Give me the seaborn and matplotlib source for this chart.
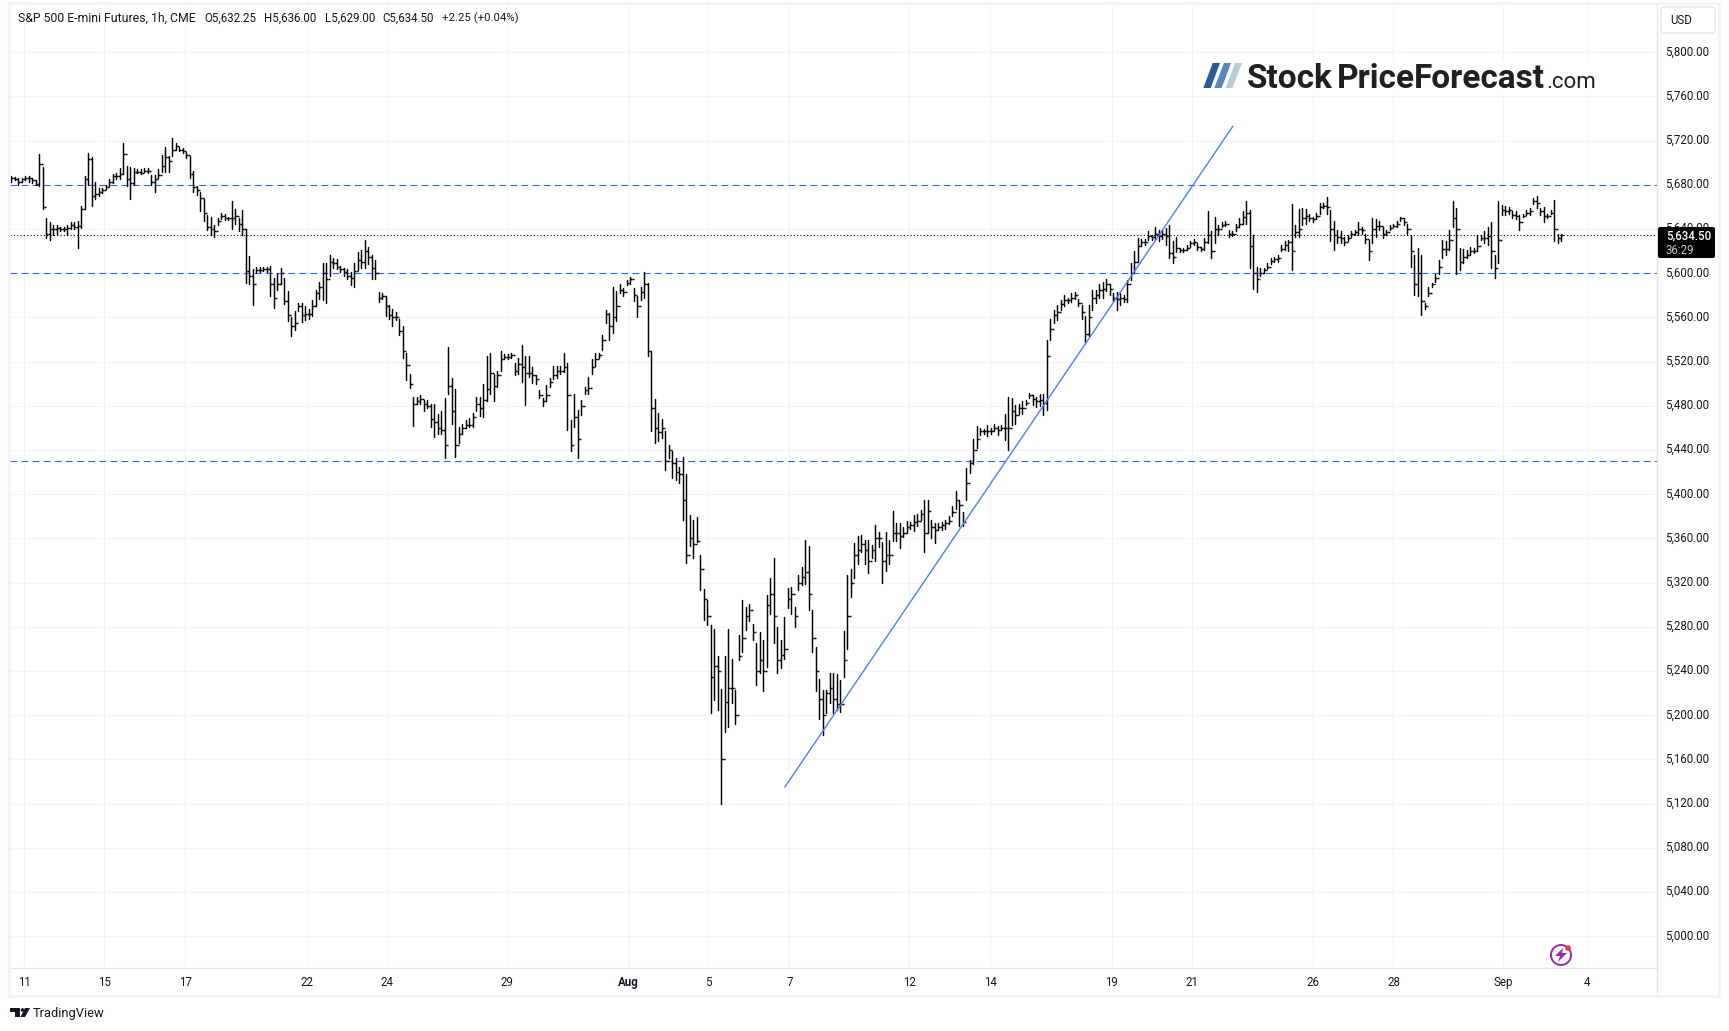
import numpy as np
import pandas as pd
import matplotlib
matplotlib.use("Agg")
import matplotlib.pyplot as plt
from matplotlib.patches import Circle, FancyBboxPatch, Polygon, Rectangle
from matplotlib.ticker import FuncFormatter
from matplotlib.transforms import ScaledTranslation
import seaborn as sns

# bars, one bar for about every two hours
jul_a_high = [5688,5687,5686,5686,5688,5688,5686,5684,5708,5696,5650,5646,5644,5644,5642,5642,5644,5646,5646,5647,5661,5688,5709,5705,5683,5677,5677,5680,5685,5690,5691,5695,5718,5697,5696,5695,5694,5694,5695,5695,5689,5689,5694,5707,5714,5706,5722,5718,5714,5713,5710,5706,5693,5679,5674,5667,5653,5651,5644,5650,5655,5654,5651,5665,5658,5650,5657,5640,5616,5604,5606,5606,5606,5606,5607,5596,5600,5605,5596,5584,5560,5566,5573,5573]
jul_a_low = [5683,5684,5680,5683,5684,5683,5682,5680,5679,5658,5632,5630,5635,5636,5638,5638,5635,5640,5640,5623,5641,5658,5680,5661,5667,5670,5673,5676,5679,5682,5685,5685,5690,5679,5667,5680,5691,5690,5692,5691,5680,5674,5686,5692,5692,5692,5706,5712,5711,5709,5704,5686,5674,5671,5656,5647,5639,5635,5633,5644,5649,5648,5648,5640,5645,5638,5635,5591,5590,5571,5600,5601,5602,5601,5579,5569,5585,5590,5572,5557,5543,5549,5566,5556]
jul_a_close = [5686,5685,5683,5685,5686,5686,5684,5681,5699,5660,5636,5640,5640,5641,5640,5640,5641,5644,5642,5643,5658,5685,5703,5670,5672,5674,5675,5678,5683,5688,5688,5690,5708,5685,5682,5692,5692,5691,5693,5693,5683,5685,5689,5697,5705,5702,5712,5715,5712,5711,5707,5690,5678,5675,5668,5655,5642,5640,5638,5647,5652,5650,5650,5650,5652,5645,5640,5602,5598,5590,5603,5603,5604,5604,5590,5578,5590,5600,5575,5562,5552,5555,5570,5562]

jul_b_high = [5570,5568,5576,5585,5592,5609,5609,5617,5614,5613,5607,5605,5604,5601,5609,5619,5621,5630,5624,5617,5612,5583,5582,5579,5571,5568,5565,5559,5552,5528,5509,5488,5488,5490,5485,5485,5482,5482,5473,5475,5487,5533,5505,5495,5461,5464,5467,5469,5474,5488,5488,5500,5525,5528,5509,5512,5530,5527,5527,5528,5519,5523,5535,5525,5525,5515,5508,5494,5487,5499,5505,5516,5516,5516,5528,5519,5467,5491,5476,5485,5497,5506,5522,5528,5528]
jul_b_low = [5558,5559,5561,5570,5577,5576,5573,5598,5605,5604,5601,5598,5595,5589,5588,5603,5605,5605,5608,5595,5595,5574,5577,5561,5559,5552,5558,5544,5523,5503,5496,5462,5482,5482,5475,5478,5461,5452,5455,5455,5433,5491,5464,5434,5446,5455,5460,5461,5461,5475,5471,5470,5484,5491,5484,5497,5512,5522,5522,5523,5508,5509,5502,5481,5506,5501,5500,5487,5480,5484,5497,5504,5505,5509,5511,5458,5439,5461,5433,5472,5491,5491,5509,5516,5523]
jul_b_close = [5563,5563,5570,5582,5588,5600,5595,5610,5609,5606,5604,5601,5598,5596,5602,5612,5610,5620,5615,5605,5600,5578,5579,5570,5562,5560,5560,5548,5530,5517,5500,5482,5484,5486,5482,5480,5468,5465,5460,5458,5445,5498,5475,5445,5455,5460,5463,5463,5470,5482,5478,5485,5495,5510,5498,5508,5522,5524,5524,5526,5512,5518,5515,5510,5510,5508,5504,5490,5484,5490,5502,5508,5512,5512,5515,5490,5445,5470,5450,5480,5494,5496,5515,5522,5526]

aug_a_high = [5544,5567,5564,5588,5584,5590,5587,5594,5597,5587,5579,5588,5601,5591,5530,5486,5474,5468,5457,5445,5439,5433,5425,5434,5418,5381,5377,5379,5345,5314,5304,5282,5278,5254,5224,5254,5278,5251,5223,5273,5304,5298,5301,5283,5265,5275,5268,5309,5324,5342,5280,5268,5289,5315,5316,5298,5327,5334,5359,5353,5295,5262,5233,5223,5223,5238,5238,5237,5232,5276,5327,5332,5356,5362,5363,5359,5359,5354,5372,5366,5357,5366,5359,5385,5374,5374,5370,5376,5375,5381,5382,5386,5395,5395,5377,5374,5374,5375,5377,5380]
aug_a_low = [5531,5555,5540,5546,5557,5582,5579,5589,5590,5575,5560,5576,5578,5525,5457,5446,5448,5451,5422,5433,5415,5413,5410,5377,5338,5353,5342,5357,5313,5286,5282,5202,5214,5205,5120,5185,5189,5211,5192,5250,5257,5277,5285,5268,5227,5238,5222,5244,5292,5265,5238,5243,5251,5297,5292,5280,5313,5318,5319,5295,5257,5222,5197,5182,5202,5211,5202,5205,5203,5235,5260,5307,5324,5337,5348,5337,5329,5342,5340,5352,5320,5331,5337,5358,5358,5351,5361,5365,5369,5367,5371,5377,5348,5365,5360,5356,5368,5368,5369,5373]
aug_a_close = [5540,5563,5552,5560,5570,5585,5583,5591,5595,5580,5570,5583,5590,5530,5478,5460,5456,5460,5430,5440,5428,5420,5418,5395,5345,5360,5355,5358,5332,5305,5290,5235,5245,5240,5160,5212,5225,5225,5200,5254,5270,5290,5295,5275,5240,5250,5240,5300,5310,5290,5250,5255,5260,5305,5310,5290,5320,5325,5330,5310,5270,5240,5215,5200,5220,5225,5215,5210,5210,5250,5290,5320,5345,5350,5355,5350,5340,5350,5360,5360,5340,5345,5345,5365,5365,5362,5365,5370,5372,5375,5376,5382,5365,5385,5370,5368,5370,5372,5374,5376]

aug_b_high = [5389,5403,5395,5384,5424,5431,5450,5462,5460,5459,5463,5460,5464,5462,5463,5473,5488,5487,5481,5482,5484,5485,5492,5490,5488,5491,5491,5540,5559,5567,5571,5576,5580,5578,5582,5583,5577,5571,5561,5571,5585,5585,5590,5592,5595,5590,5582,5583]
aug_b_low = [5380,5387,5371,5371,5395,5419,5427,5442,5454,5455,5453,5455,5457,5454,5458,5449,5440,5463,5464,5473,5473,5481,5487,5481,5479,5480,5472,5476,5540,5555,5558,5567,5570,5573,5574,5577,5570,5559,5538,5543,5567,5573,5578,5578,5584,5580,5575,5567]
aug_b_close = [5384,5395,5390,5375,5410,5428,5440,5450,5457,5457,5457,5457,5460,5458,5460,5460,5460,5475,5472,5478,5478,5483,5490,5486,5484,5485,5483,5525,5550,5562,5565,5572,5576,5576,5578,5580,5573,5565,5545,5560,5578,5580,5585,5586,5590,5586,5578,5577]

aug_c_high = [5582,5580,5594,5609,5620,5632,5631,5631,5638,5635,5642,5639,5639,5641,5644,5629,5633,5623,5623,5626,5629,5631,5627,5624,5632,5656,5638,5651,5644,5646,5647,5639,5638,5645,5650,5656,5665,5657,5635,5606,5605,5605,5609,5614,5615,5617,5626,5629,5630,5663,5644,5658,5659,5658,5654,5651,5655,5664,5664,5669,5657,5647,5639,5638,5633,5635,5638,5639,5646,5642,5636,5630,5650,5649,5647,5642,5639,5644,5645,5647,5651,5650,5645]
aug_c_low = [5571,5574,5574,5594,5601,5610,5625,5626,5630,5630,5630,5629,5631,5626,5614,5609,5619,5619,5619,5621,5624,5626,5621,5620,5621,5627,5614,5627,5635,5642,5643,5633,5634,5638,5642,5645,5645,5605,5586,5583,5598,5600,5604,5608,5610,5610,5620,5621,5620,5603,5633,5633,5644,5645,5647,5646,5649,5654,5659,5654,5629,5621,5627,5627,5626,5629,5633,5635,5635,5636,5627,5612,5627,5633,5639,5632,5635,5639,5642,5642,5647,5644,5636]
aug_c_close = [5578,5577,5590,5600,5610,5625,5628,5628,5634,5633,5636,5634,5636,5634,5618,5615,5623,5621,5621,5623,5627,5628,5624,5622,5628,5635,5620,5640,5640,5644,5645,5636,5636,5642,5645,5651,5655,5625,5600,5595,5600,5603,5606,5611,5613,5614,5622,5626,5628,5620,5637,5640,5650,5652,5650,5649,5652,5660,5661,5660,5640,5635,5633,5632,5628,5632,5636,5637,5640,5639,5631,5620,5640,5643,5643,5636,5637,5641,5643,5645,5650,5646,5640]

sep_high = [5635,5617,5623,5617,5573,5588,5591,5599,5612,5630,5629,5639,5665,5659,5623,5622,5621,5624,5623,5635,5635,5638,5642,5646,5617,5665,5662,5661,5660,5656,5656,5653,5654,5657,5659,5668,5670,5659,5660,5654,5657,5666,5636,5636]
sep_low = [5606,5580,5579,5562,5568,5579,5588,5592,5599,5614,5617,5621,5642,5599,5603,5609,5614,5617,5618,5620,5630,5627,5626,5605,5596,5609,5653,5653,5654,5650,5649,5639,5651,5653,5653,5663,5659,5653,5646,5650,5654,5629,5627,5629]
sep_close = [5620,5590,5600,5575,5570,5582,5590,5596,5606,5622,5622,5630,5650,5640,5610,5615,5617,5620,5620,5625,5632,5632,5634,5620,5605,5630,5657,5656,5657,5653,5652,5646,5652,5655,5656,5665,5664,5656,5652,5652,5655,5640,5632,5634.5]

support_levels = [5680, 5600, 5430]
last_price = 5634.5
trend_bar = [221.1, 349.1]
trend_price = [5135, 5733]

price_ticks = list(range(5000, 5801, 40))
date_ticks = [3.8, 26.7, 49.8, 84.5, 107.3, 141.8, 176.5, 199.2, 222.4, 256.7, 279.8, 314.5, 337.3, 371.9, 395, 426.4, 450.4]
date_labels = ["11", "15", "17", "22", "24", "29", "Aug", "5", "7", "12", "14", "19", "21", "26", "28", "Sep", "4"]

high = jul_a_high + jul_b_high + aug_a_high + aug_b_high + aug_c_high + sep_high
low = jul_a_low + jul_b_low + aug_a_low + aug_b_low + aug_c_low + sep_low
close = jul_a_close + jul_b_close + aug_a_close + aug_b_close + aug_c_close + sep_close

bars = pd.DataFrame({"high": high, "low": low, "close": close})
bars["bar"] = bars.index
bars["open"] = bars["close"].shift(1).fillna(bars["close"])
wicks = bars.melt(id_vars="bar", value_vars=["low", "high"], value_name="price")

sns.set_theme(style="white")
plt.rcParams["font.family"] = ["Roboto", "DejaVu Sans"]

W, H = 1729, 1031
fig = plt.figure(figsize=(W / 100, H / 100), dpi=100)
ax = fig.add_axes([10 / W, (H - 968) / H, 1647 / W, 963 / H])

INK = "#131722"
BLUE = "#2962ff"
GRID = "#f0f3fa"
EDGE = "#e0e3eb"
BAR_LW = 1.05

sns.lineplot(data=wicks, x="bar", y="price", units="bar", estimator=None, sort=False,
             color="black", linewidth=BAR_LW, ax=ax, zorder=3)
ax.hlines(bars["close"], bars["bar"], bars["bar"] + 0.5, color="black", linewidth=BAR_LW, zorder=3)
ax.hlines(bars["open"], bars["bar"] - 0.5, bars["bar"], color="black", linewidth=BAR_LW, zorder=3)

for level in support_levels:
    ax.axhline(level, color=BLUE, linewidth=0.8, linestyle=(0, (6, 4)), zorder=2)
ax.axhline(last_price, color="black", linewidth=0.8, linestyle=(0, (1, 2)), zorder=2)
sns.lineplot(x=trend_bar, y=trend_price, color="#4c7dff", linewidth=1.0, ax=ax, zorder=4)

ax.set_xlim(-0.29, 470.3)
ax.set_ylim(4971.3, 5842.8)
ax.set_xticks(date_ticks)
ax.set_xticklabels(date_labels)
ax.set_yticks(price_ticks)
ax.yaxis.set_major_formatter(FuncFormatter(lambda v, p: f"{v:,.2f}"))
ax.yaxis.tick_right()
ax.grid(True, color=GRID, linewidth=0.8)
ax.set_axisbelow(True)
ax.tick_params(axis="both", length=0, labelsize=8.3, labelcolor=INK)
ax.tick_params(axis="y", pad=6)
ax.tick_params(axis="x", pad=6)
ax.set_xlabel("")
ax.set_ylabel("")
# price labels sit a touch above their gridlines
shift_up = ScaledTranslation(0, 2 / 100, fig.dpi_scale_trans)
for label in ax.get_yticklabels():
    label.set_transform(label.get_transform() + shift_up)
for label in ax.get_xticklabels():
    if label.get_text() == "Aug":
        label.set_fontweight("bold")
for side in ["top", "left"]:
    ax.spines[side].set_visible(False)
for side in ["bottom", "right"]:
    ax.spines[side].set_color(EDGE)
    ax.spines[side].set_linewidth(0.9)

# page furniture, positioned in pixels
over = fig.add_axes([0, 0, 1, 1], zorder=5)
over.set_xlim(0, W)
over.set_ylim(H, 0)
over.axis("off")
over.add_patch(Rectangle((9, 3), 1710, 993, fill=False, edgecolor=GRID, linewidth=2))
over.plot([1657, 1657], [968, 996], color=EDGE, linewidth=0.9)

header = [(18, "S&P 500 E-mini Futures, 1h, CME", 8.8), (204, "O5,632.25", 8.3), (264, "H5,636.00", 8.3),
          (325, "L5,629.00", 8.3), (382, "C5,634.50", 8.3), (442, "+2.25 (+0.04%)", 8.2)]
for x, txt, size in header:
    over.text(x, 18, txt, fontsize=size, color=INK, va="center")

over.add_patch(FancyBboxPatch((1661, 7), 54, 26, boxstyle="round,pad=0,rounding_size=3",
                              facecolor="white", edgecolor=EDGE, linewidth=0.9))
over.text(1670, 20, "USD", fontsize=8.3, color=INK, va="center", ha="left")

over.add_patch(FancyBboxPatch((1658, 227), 57, 31, boxstyle="round,pad=0,rounding_size=2",
                              facecolor="black", edgecolor="none"))
over.text(1666, 236, "5,634.50", fontsize=8.3, color="white", va="center", fontweight="medium")
over.text(1666, 250, "36:29", fontsize=8.3, color="#c8c8c8", va="center")

# logo, on its own white patch
over.add_patch(Rectangle((1200, 60), 395, 34, facecolor="white", edgecolor="none"))
slashes = [(1203.3, 1210.7, 1212.7, 1220, "#2b5a94"), (1214.3, 1221.7, 1224, 1231, "#5a86b8"),
           (1225.7, 1232.3, 1235, 1242, "#b8cbd8")]
for b0, b1, t0, t1, col in slashes:
    over.add_patch(Polygon([(b0, 88), (b1, 88), (t1, 63), (t0, 63)], facecolor=col, edgecolor="none"))
for x, word in [(1246.5, "Stock"), (1337, "Price"), (1414, "Forecast")]:
    over.text(x, 87.7, word, fontsize=24, color="#231f20", va="baseline", fontweight="bold")
over.text(1546, 87.7, ".com", fontsize=16, color="#231f20", va="baseline")

# TradingView mark
over.add_patch(Polygon([(10, 1008), (20, 1008), (20, 1017), (15, 1017), (15, 1012), (10, 1012)], facecolor=INK, edgecolor="none"))
over.add_patch(Circle((22.5, 1010), 1.8, facecolor=INK, edgecolor="none"))
over.add_patch(Polygon([(25, 1008), (30, 1008), (25, 1017), (20.5, 1017)], facecolor=INK, edgecolor="none"))
over.text(33, 1014, "TradingView", fontsize=9.3, color=INK, va="center")

# lightning badge
over.add_patch(Circle((1561, 955), 10, fill=False, edgecolor="#9c27b0", linewidth=1.4))
over.add_patch(Polygon([(1563, 948), (1555, 956), (1560, 956), (1558, 962), (1567, 953), (1562, 953)],
                       facecolor="#9c27b0", edgecolor="none"))
over.add_patch(Circle((1568, 948), 2.8, facecolor="#f23645", edgecolor="none"))

fig.savefig("out.png", dpi=100, facecolor="white")
